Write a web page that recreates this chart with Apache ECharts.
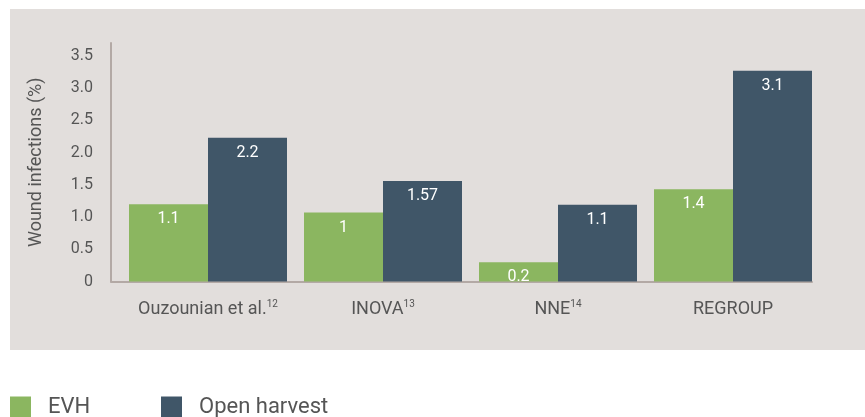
<!DOCTYPE html>
<html>
<head>
<meta charset="utf-8">
<script src="https://cdn.jsdelivr.net/npm/echarts@6/dist/echarts.min.js"></script>
<style>
  html, body { margin: 0; padding: 0; background: #fff; }
  #chart { width: 865px; height: 417px; }
</style>
</head>
<body>
<div id="chart"></div>
<script>
// studies on the x axis, with their reference numbers
var studies = ['Ouzounian et al.', 'INOVA', 'NNE', 'REGROUP'];
var refs = ['12', '13', '14', ''];

// bar heights as drawn, and the numbers printed on them
var evhValues = [1.20, 1.07, 0.30, 1.43];
var openValues = [2.23, 1.56, 1.19, 3.27];
var evhLabels = ['1.1', '1', '0.2', '1.4'];
var openLabels = ['2.2', '1.57', '1.1', '3.1'];

var yTicks = [0, 0.5, 1, 1.5, 2, 2.5, 3, 3.5];

var GREEN = '#8bb660';
var NAVY = '#405668';
var AXIS = '#b3a9a5';
var TEXT = '#555555';

var chart = echarts.init(document.getElementById('chart'));

function barLabel(texts) {
  return {
    show: true,
    position: 'insideTop',
    distance: 7,
    color: '#ffffff',
    fontFamily: 'Roboto',
    fontSize: 16,
    formatter: function (p) { return texts[p.dataIndex]; }
  };
}

function legendFor(name, left) {
  return {
    data: [name],
    left: left, top: 396,
    padding: 0,
    itemWidth: 21, itemHeight: 21,
    icon: 'rect',
    textStyle: { color: TEXT, fontFamily: 'Roboto', fontSize: 22, padding: [0, 0, 0, 12] }
  };
}

var option = {
  animation: false,
  graphic: [{
    type: 'rect',
    silent: true,
    z: -10,
    shape: { x: 10, y: 9, width: 855, height: 341 },
    style: { fill: '#e2dedc' }
  }],
  legend: [legendFor('EVH', 10), legendFor('Open harvest', 161)],
  grid: [
    // bars
    { left: 120.5, right: 44.5, top: 43, bottom: 135.5 },
    // visible axes
    { left: 111, right: 53, top: 43, bottom: 135.5 }
  ],
  xAxis: [{
    type: 'category',
    gridIndex: 0,
    data: studies,
    axisLine: { show: false },
    axisTick: { show: false },
    axisLabel: {
      interval: 0,
      margin: 18,
      formatter: function (v, i) {
        return refs[i] ? '{m|' + v + '}{s|' + refs[i] + '}' : '{m|' + v + '}';
      },
      rich: {
        m: { fontFamily: 'Roboto', fontSize: 18, color: TEXT, lineHeight: 20 },
        s: { fontFamily: 'Roboto', fontSize: 10, color: TEXT, verticalAlign: 'top', lineHeight: 10 }
      }
    }
  }, {
    type: 'value',
    gridIndex: 1,
    min: 0, max: 1,
    axisLine: { show: true, lineStyle: { color: AXIS, width: 2 } },
    axisTick: { show: false },
    axisLabel: { show: false },
    splitLine: { show: false }
  }],
  yAxis: [{
    type: 'value',
    gridIndex: 0,
    min: 0, max: 3.7,
    show: false
  }, {
    type: 'value',
    gridIndex: 1,
    min: 0, max: 3.7, interval: 0.5,
    name: 'Wound infections (%)',
    nameLocation: 'middle',
    nameGap: 66,
    nameTextStyle: { color: TEXT, fontFamily: 'Roboto', fontSize: 18 },
    axisLine: { show: true, lineStyle: { color: AXIS, width: 2 } },
    axisTick: { show: false },
    splitLine: { show: false },
    axisLabel: {
      margin: 18,
      color: TEXT,
      fontFamily: 'Roboto',
      fontSize: 16,
      customValues: yTicks,
      formatter: function (v) { return v === 0 ? '0' : v.toFixed(1); }
    }
  }],
  series: [{
    name: 'EVH',
    type: 'bar',
    xAxisIndex: 0, yAxisIndex: 0,
    barWidth: 79,
    barGap: '0%',
    itemStyle: { color: GREEN },
    label: barLabel(evhLabels),
    data: evhValues
  }, {
    name: 'Open harvest',
    type: 'bar',
    xAxisIndex: 0, yAxisIndex: 0,
    barWidth: 79,
    barGap: '0%',
    itemStyle: { color: NAVY },
    label: barLabel(openLabels),
    data: openValues
  }]
};

chart.setOption(option);
</script>
</body>
</html>
